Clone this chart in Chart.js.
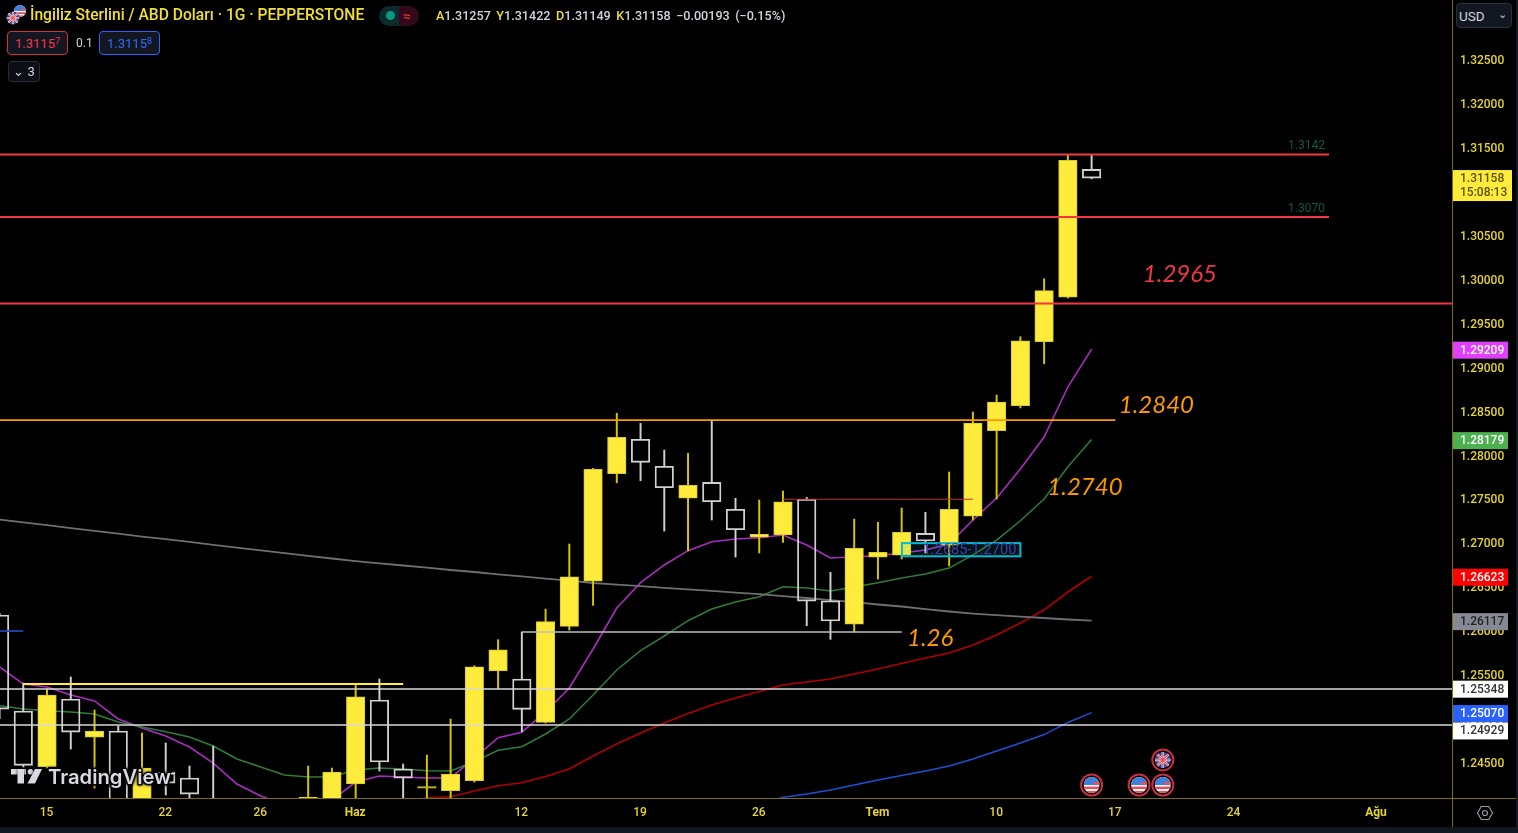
<!DOCTYPE html>
<html lang="tr">
<head>
<meta charset="utf-8">
<title>GBPUSD</title>
<script src="https://cdn.jsdelivr.net/npm/chart.js@4"></script>
<style>
  html, body { margin: 0; height: 100%; background: #131722; overflow: hidden; }
  #wrap { position: relative; width: 1518px; height: 833px; font-family: Roboto, sans-serif; }
  canvas { position: absolute; left: 0; top: 0; background: #000; }
  .t { position: absolute; white-space: nowrap; line-height: 1; }
  .chip { position: absolute; box-sizing: border-box; border-radius: 4px; background: #131722; text-align: center; white-space: nowrap; }
  sup { font-size: 9px; line-height: 0; vertical-align: 4px; }
  .y { color: #f2df35; }
</style>
</head>
<body>
<div id="wrap">
  <canvas id="chart" width="1516" height="827"></canvas>
  <div class="t y" style="left:30px;top:8px;font-size:15.6px;font-weight:500">İngiliz Sterlini / ABD Doları · 1G · PEPPERSTONE</div>
  <div class="chip" style="left:379px;top:6px;width:40px;height:20px;border-radius:10px;background:linear-gradient(90deg,#0c2b2a 50%,#35091c 50%)"></div>
  <div class="t" style="left:386px;top:11px;width:9px;height:9px;border-radius:50%;background:#089981"></div>
  <div class="t" style="left:403px;top:9px;color:#f23645;font-size:14px">≈</div>
  <div class="t" style="left:436px;top:10px;font-size:12.6px;font-weight:500;color:#d1d4dc;word-spacing:2.4px"><span class="y">A</span>1.31257 <span class="y">Y</span>1.31422 <span class="y">D</span>1.31149 <span class="y">K</span>1.31158 −0.00193 (−0.15%)</div>
  <div class="chip" style="left:7px;top:31px;width:61px;height:24px;border:1px solid #d32f3f;color:#f23645;font-size:13px;line-height:24px">1.3115<sup>7</sup></div>
  <div class="t" style="left:76px;top:37px;font-size:12px;color:#d1d4dc">0.1</div>
  <div class="chip" style="left:99px;top:31px;width:61px;height:24px;border:1px solid #2962ff;color:#2f6bff;font-size:13px;line-height:24px">1.3115<sup>8</sup></div>
  <div class="chip" style="left:8px;top:61px;width:32px;height:21px;border:1px solid #2a2e39;background:#0c0e14;color:#d1d4dc;font-size:13px;line-height:20px">⌄ 3</div>
  <div class="chip" style="left:1456px;top:3px;width:56px;height:25px;border:1px solid #2a2e39;color:#d1d4dc;font-size:13.5px;line-height:24px;text-align:left;padding-left:2px">USD<span style="position:absolute;right:4px;top:-1px;font-size:11px">⌄</span></div>
</div>
<script>
// tick labels
const xTickPos = [2, 7, 11, 15, 22, 27, 32, 37, 42, 47, 52, 58];
const xTickLabels = ['15', '22', '26', 'Haz', '12', '19', '26', 'Tem', '10', '17', '24', 'Ağu'];
const monthLabels = ['Haz', 'Tem', 'Ağu'];
const yTicks = [1.245, 1.25, 1.255, 1.26, 1.265, 1.27, 1.275, 1.28, 1.285, 1.29, 1.295, 1.3, 1.305, 1.31, 1.315, 1.32, 1.325];

// daily candles, one entry per bar from the left edge
const opens = [1.26181, 1.25087, 1.24453, 1.25224, 1.24791, 1.24860, 1.23960, 1.24393, 1.24324, 1.24028, 1.2400, 1.2357, 1.2385, 1.2395, 1.2400, 1.24256, 1.25213, 1.24427, 1.24210, 1.24180, 1.24294, 1.25543, 1.25452, 1.24959, 1.26052, 1.26568, 1.27790, 1.28182, 1.27875, 1.27513, 1.27692, 1.27385, 1.27069, 1.27092, 1.27499, 1.26344, 1.26078, 1.26841, 1.26864, 1.27111, 1.26978, 1.27308, 1.28280, 1.28565, 1.29294, 1.29800, 1.31257];
const highs = [1.26200, 1.25406, 1.25338, 1.25475, 1.25099, 1.24917, 1.24837, 1.24723, 1.24461, 1.24689, 1.2409, 1.2400, 1.2405, 1.24461, 1.24438, 1.25395, 1.25452, 1.24484, 1.24586, 1.24996, 1.25603, 1.25900, 1.25987, 1.26249, 1.26990, 1.27852, 1.28478, 1.28364, 1.28060, 1.28023, 1.28402, 1.27510, 1.27491, 1.27593, 1.27521, 1.26667, 1.27274, 1.27237, 1.27400, 1.27351, 1.27810, 1.28493, 1.28687, 1.29351, 1.30011, 1.31420, 1.31422];
const lows = [1.25000, 1.24450, 1.24438, 1.24655, 1.24210, 1.23903, 1.23903, 1.24131, 1.23937, 1.23846, 1.2360, 1.2345, 1.2360, 1.2380, 1.2395, 1.24017, 1.24404, 1.24017, 1.24017, 1.24074, 1.24279, 1.25342, 1.24852, 1.24951, 1.26010, 1.26291, 1.27688, 1.27711, 1.27138, 1.26913, 1.27263, 1.26841, 1.26887, 1.27009, 1.26059, 1.25904, 1.25987, 1.26591, 1.26819, 1.26887, 1.26739, 1.27263, 1.27502, 1.28539, 1.29043, 1.29792, 1.31149];
const closes = [1.25110, 1.24469, 1.25270, 1.24848, 1.24860, 1.24017, 1.24438, 1.24267, 1.24142, 1.23903, 1.2376, 1.2385, 1.2370, 1.24108, 1.24393, 1.25250, 1.24507, 1.24324, 1.24228, 1.24370, 1.25592, 1.25786, 1.25107, 1.26105, 1.26617, 1.27840, 1.28205, 1.27920, 1.27631, 1.27658, 1.27471, 1.27152, 1.27100, 1.27471, 1.26340, 1.26113, 1.26941, 1.26895, 1.27123, 1.27024, 1.27385, 1.28368, 1.28607, 1.29305, 1.29875, 1.31360, 1.31158];

// moving averages, null where they sit under the bottom of the chart
const maPurple = [1.25589, 1.25395, 1.25361, 1.25270, 1.25202, 1.24997, 1.24894, 1.24803, 1.24678, 1.24495, 1.24256, 1.24120, 1.24017, 1.23937, 1.24074, 1.24279, 1.24347, 1.24336, 1.24325, 1.24325, 1.24552, 1.24784, 1.24845, 1.25080, 1.25350, 1.25794, 1.26261, 1.26549, 1.26751, 1.26914, 1.27016, 1.27047, 1.27062, 1.27092, 1.26978, 1.26830, 1.26845, 1.26857, 1.26887, 1.26921, 1.26990, 1.27263, 1.27514, 1.27844, 1.28209, 1.28778, 1.29209];
const maGreen = [1.25148, 1.25110, 1.25091, 1.25076, 1.25054, 1.24962, 1.24905, 1.24852, 1.24792, 1.24689, 1.24541, 1.24450, 1.24359, 1.24336, 1.24339, 1.24416, 1.24438, 1.24427, 1.24408, 1.24404, 1.24512, 1.24640, 1.24681, 1.24826, 1.24997, 1.25270, 1.25555, 1.25775, 1.25942, 1.26116, 1.26249, 1.26329, 1.26390, 1.26503, 1.26489, 1.26455, 1.26500, 1.26549, 1.26603, 1.26648, 1.26716, 1.26865, 1.27035, 1.27255, 1.27502, 1.27870, 1.28179];
const maRed = [null, null, null, null, null, null, null, null, null, null, null, null, null, null, null, null, null, 1.24040, 1.24097, 1.24112, 1.24177, 1.24237, 1.24271, 1.24342, 1.24427, 1.24575, 1.24712, 1.24837, 1.24951, 1.25059, 1.25156, 1.25236, 1.25310, 1.25384, 1.25418, 1.25452, 1.25509, 1.25566, 1.25629, 1.25691, 1.25748, 1.25839, 1.25953, 1.26090, 1.26238, 1.26443, 1.26623];
const maBlue = [null, null, null, null, null, null, null, null, null, null, null, null, null, null, null, null, null, null, null, null, null, null, null, null, null, null, null, null, null, null, null, null, 1.24040, 1.24103, 1.24142, 1.24188, 1.24245, 1.24302, 1.24353, 1.24404, 1.24461, 1.24541, 1.24632, 1.24723, 1.24820, 1.24957, 1.25070];
const maGrey = [1.27268, 1.27236, 1.27204, 1.27172, 1.27139, 1.27107, 1.27075, 1.27045, 1.27013, 1.26981, 1.26949, 1.26918, 1.26887, 1.26855, 1.26825, 1.26796, 1.26770, 1.26745, 1.26720, 1.26694, 1.26671, 1.26644, 1.26622, 1.26595, 1.26572, 1.26546, 1.26527, 1.26511, 1.26491, 1.26474, 1.26455, 1.26437, 1.26420, 1.26397, 1.26375, 1.26350, 1.26327, 1.26301, 1.26278, 1.26249, 1.26221, 1.26198, 1.26181, 1.26162, 1.26147, 1.26130, 1.26117];

// hand drawn levels: [start bar, end bar, price]
const redLevels = [[0, 56, 1.31426], [0, 56, 1.30714], [0, 62, 1.29729]];
const orangeLevel = [0, 47, 1.28402];
const yellowLevel = [1, 17, 1.25395];
const whiteLevels = [[0, 62, 1.25338], [0, 62, 1.24929], [22, 38, 1.25987]];
const thinRedLevel = [33, 41, 1.27500];
const blueStub = [0, 1, 1.25999];

// notes on the chart: text, bar, price
const noteTexts = ['1.2965', '1.2840', '1.2740', '1.26'];
const noteBars = [49.72, 48.73, 45.72, 39.2];
const notePrices = [1.30058, 1.28572, 1.27638, 1.25912];
const noteColors = ['#f23645', '#ff9800', '#ff9800', '#ff9800'];
const lineNotes = ['1.3142', '1.3070'];
const lineNotePrices = [1.31523, 1.30803];

// price tags on the right axis, the last one is pushed down clear of its neighbour
const tagValues = [1.29209, 1.28179, 1.26623, 1.26117, 1.25348, 1.25070, 1.24929];
const tagFills = ['#e040fb', '#4caf50', '#ff0000', '#868993', '#ffffff', '#2962ff', '#ffffff'];
const tagTexts = ['#fff', '#fff', '#fff', '#222', '#333', '#fff', '#333'];
const tagShift = [0, 0, 0, 0, 0, 0, 5];

const UP = '#ffeb3b';
const UP_WICK = '#d8c600';
const DOWN = '#d0d0d0';

const isUp = i => closes[i] >= opens[i];
const toPoints = values => values.map((y, x) => ({ x, y }));

const bodies = opens.map((o, i) => ({ x: i, y: [o, closes[i]], up: isUp(i) }));
const wicks = opens.flatMap((o, i) => {
  const top = Math.max(o, closes[i]);
  const bottom = Math.min(o, closes[i]);
  return [
    { x: i, y: [top, highs[i]], up: isUp(i) },
    { x: i, y: [lows[i], bottom], up: isUp(i) }
  ];
});

function maSet(values, color, width) {
  return { type: 'line', data: toPoints(values), borderColor: color, borderWidth: width, pointRadius: 0, order: 10, clip: 0 };
}
function levelSet([from, to, price], color, width, order) {
  return {
    type: 'line',
    data: [{ x: from, y: price }, { x: to, y: price }],
    borderColor: color, borderWidth: width, pointRadius: 0, order: order || 1, clip: 0
  };
}

function drawUS(ctx, x, y, r) {
  ctx.save();
  ctx.beginPath(); ctx.arc(x, y, r, 0, Math.PI * 2); ctx.clip();
  ctx.fillStyle = '#f4f4f4'; ctx.fillRect(x - r, y - r, 2 * r, 2 * r);
  ctx.fillStyle = '#3d7fd9'; ctx.fillRect(x - r, y - r, 2 * r, r);
  ctx.fillStyle = '#e8505b';
  ctx.fillRect(x - r, y + r * 0.2, 2 * r, r * 0.3);
  ctx.fillRect(x - r, y + r * 0.75, 2 * r, r * 0.3);
  ctx.fillRect(x + r * 0.2, y - r * 0.35, r, r * 0.3);
  ctx.restore();
}
function drawUK(ctx, x, y, r) {
  ctx.save();
  ctx.beginPath(); ctx.arc(x, y, r, 0, Math.PI * 2); ctx.clip();
  ctx.fillStyle = '#2b4a9c'; ctx.fillRect(x - r, y - r, 2 * r, 2 * r);
  ctx.strokeStyle = '#eee'; ctx.lineWidth = r * 0.3;
  ctx.beginPath();
  ctx.moveTo(x - r, y - r); ctx.lineTo(x + r, y + r);
  ctx.moveTo(x + r, y - r); ctx.lineTo(x - r, y + r);
  ctx.moveTo(x, y - r); ctx.lineTo(x, y + r);
  ctx.moveTo(x - r, y); ctx.lineTo(x + r, y);
  ctx.stroke();
  ctx.strokeStyle = '#e8505b'; ctx.lineWidth = r * 0.16;
  ctx.beginPath();
  ctx.moveTo(x - r, y - r); ctx.lineTo(x + r, y + r);
  ctx.moveTo(x + r, y - r); ctx.lineTo(x - r, y + r);
  ctx.moveTo(x, y - r); ctx.lineTo(x, y + r);
  ctx.moveTo(x - r, y); ctx.lineTo(x + r, y);
  ctx.stroke();
  ctx.restore();
}
function eventFlag(ctx, x, y, draw) {
  ctx.fillStyle = '#000';
  ctx.beginPath(); ctx.arc(x, y, 10.5, 0, Math.PI * 2); ctx.fill();
  ctx.strokeStyle = '#c8303f'; ctx.lineWidth = 2;
  ctx.beginPath(); ctx.arc(x, y, 10.5, 0, Math.PI * 2); ctx.stroke();
  draw(ctx, x, y, 8);
}

function drawLogo(ctx, x, y) {
  ctx.save();
  ctx.lineJoin = 'round';
  ctx.fillStyle = '#d8dae2';
  ctx.shadowColor = '#000'; ctx.shadowBlur = 3;
  // the TV mark
  ctx.fillRect(x, y, 15, 5.5);
  ctx.fillRect(x + 6.5, y, 6.5, 14.5);
  ctx.beginPath(); ctx.arc(x + 19.5, y + 2.8, 2.8, 0, Math.PI * 2); ctx.fill();
  ctx.beginPath();
  ctx.moveTo(x + 24, y); ctx.lineTo(x + 31, y); ctx.lineTo(x + 24, y + 14.5); ctx.lineTo(x + 16.5, y + 14.5);
  ctx.closePath(); ctx.fill();
  ctx.font = '600 20.2px Inter, Roboto, sans-serif';
  ctx.textBaseline = 'alphabetic';
  ctx.textAlign = 'left';
  ctx.strokeStyle = 'rgba(0,0,0,0.85)'; ctx.lineWidth = 3;
  ctx.strokeText('TradingView', x + 37, y + 15);
  ctx.fillText('TradingView', x + 37, y + 15);
  ctx.fillRect(x + 160, y + 4, 4, 1.5);
  ctx.restore();
}

const overlayPlugin = {
  id: 'overlay',
  afterDatasetsDraw(chart) {
    const { ctx, scales: { x: xs, y: ys } } = chart;
    ctx.save();

    // support zone box
    const bx0 = xs.getPixelForValue(38.01), bx1 = xs.getPixelForValue(43);
    const by0 = ys.getPixelForValue(1.27000), by1 = ys.getPixelForValue(1.26850);
    ctx.fillStyle = 'rgba(0,188,212,0.1)';
    ctx.fillRect(bx0, by0, bx1 - bx0, by1 - by0);
    ctx.strokeStyle = '#00bcd4'; ctx.lineWidth = 2;
    ctx.strokeRect(bx0, by0, bx1 - bx0, by1 - by0);
    ctx.fillStyle = '#4a3aa8';
    ctx.font = '14.6px Roboto, sans-serif';
    ctx.textAlign = 'right'; ctx.textBaseline = 'middle';
    ctx.fillText('1.2685-1.2700', bx1 - 4, (by0 + by1) / 2 + 1);

    // big italic notes
    ctx.font = 'italic 24px Lato, Roboto, sans-serif';
    ctx.textAlign = 'center';
    noteTexts.forEach((t, i) => {
      ctx.fillStyle = noteColors[i];
      ctx.fillText(t, xs.getPixelForValue(noteBars[i]), ys.getPixelForValue(notePrices[i]));
    });

    // level captions
    ctx.font = '12px Roboto, sans-serif';
    ctx.fillStyle = '#0b5a48';
    ctx.textAlign = 'right';
    lineNotes.forEach((t, i) => ctx.fillText(t, xs.getPixelForValue(56) - 4, ys.getPixelForValue(lineNotePrices[i])));

    // calendar events
    eventFlag(ctx, xs.getPixelForValue(46), ys.getPixelForValue(1.24245), drawUS);
    eventFlag(ctx, xs.getPixelForValue(48), ys.getPixelForValue(1.24245), drawUS);
    eventFlag(ctx, xs.getPixelForValue(49), ys.getPixelForValue(1.24245), drawUS);
    eventFlag(ctx, xs.getPixelForValue(49), ys.getPixelForValue(1.24530), drawUK);

    drawLogo(ctx, 11, 769);

    // symbol flags in the header
    drawUS(ctx, 20, 11, 6);
    drawUK(ctx, 13, 18, 6.5);

    // axis frame
    const area = chart.chartArea;
    ctx.fillStyle = '#7d7000';
    ctx.fillRect(area.right, 0, 1, chart.height);
    ctx.fillRect(0, area.bottom, chart.width, 1);

    // price tags
    ctx.font = '500 12px Roboto, sans-serif';
    ctx.textAlign = 'left';
    ctx.textBaseline = 'middle';
    tagValues.forEach((v, i) => {
      const py = ys.getPixelForValue(v) + 1 + tagShift[i];
      ctx.fillStyle = tagFills[i];
      ctx.fillRect(area.right + 1, py - 8.5, 55, 17);
      ctx.fillStyle = tagTexts[i];
      ctx.fillText(v.toFixed(5), 1460, py + 0.5);
    });

    // last price tag with countdown
    const lastY = ys.getPixelForValue(closes[closes.length - 1]);
    ctx.fillStyle = UP;
    ctx.fillRect(area.right + 1, lastY - 8, 59, 31);
    ctx.fillStyle = '#5a5200';
    ctx.fillText('1.31158', 1460, lastY + 1);
    ctx.fillText('15:08:13', 1460, lastY + 15);

    // settings button
    const gx = 1485, gy = 813;
    ctx.strokeStyle = '#9598a1'; ctx.lineWidth = 1.2;
    ctx.beginPath();
    for (let k = 0; k < 6; k++) {
      const a = Math.PI / 3 * k;
      const px = gx + 7.5 * Math.cos(a), py = gy + 7.5 * Math.sin(a);
      if (k) ctx.lineTo(px, py); else ctx.moveTo(px, py);
    }
    ctx.closePath(); ctx.stroke();
    ctx.beginPath(); ctx.arc(gx, gy, 2.5, 0, Math.PI * 2); ctx.stroke();
    ctx.restore();
  }
};

new Chart(document.getElementById('chart'), {
  type: 'bar',
  plugins: [overlayPlugin],
  data: {
    datasets: [
      {
        data: bodies, grouped: false, order: 5, clip: 0,
        barThickness: 18.5, borderSkipped: false,
        backgroundColor: c => (c.raw && c.raw.up ? UP : 'rgba(0,0,0,0)'),
        borderColor: c => (c.raw && c.raw.up ? '#d8c92e' : DOWN),
        borderWidth: c => (c.raw && c.raw.up ? 1 : 1.2)
      },
      {
        data: wicks, grouped: false, order: 6, clip: 0,
        barThickness: 1.3, borderWidth: 0,
        backgroundColor: c => (c.raw && c.raw.up ? UP_WICK : DOWN)
      },
      maSet(maGrey, '#6e6e74', 1.8),
      maSet(maBlue, '#1e50d8', 1.4),
      maSet(maRed, '#b00000', 1.6),
      maSet(maGreen, '#2f7d3a', 1.5),
      maSet(maPurple, '#a92dc0', 1.6),
      levelSet(redLevels[0], '#f23645', 2),
      levelSet(redLevels[1], '#f23645', 2),
      levelSet(redLevels[2], '#f23645', 2),
      levelSet(orangeLevel, '#ff9800', 1.8),
      levelSet(yellowLevel, '#ffeb3b', 2),
      levelSet(whiteLevels[0], '#d8d8d8', 1.6),
      levelSet(whiteLevels[1], '#d8d8d8', 1.6),
      levelSet(whiteLevels[2], '#bdbdbd', 1.6),
      levelSet(thinRedLevel, '#c03038', 1.1),
      levelSet(blueStub, '#2044b0', 1.8)
    ]
  },
  options: {
    responsive: false,
    animation: false,
    devicePixelRatio: 1,
    layout: { padding: 0 },
    plugins: { legend: { display: false }, tooltip: { enabled: false } },
    elements: { line: { tension: 0 } },
    scales: {
      x: {
        type: 'linear',
        offset: false,
        min: 0.0185,
        max: 61.181,
        grid: { display: false, offset: false, drawTicks: false },
        border: { display: false },
        ticks: {
          autoSkip: false,
          maxRotation: 0,
          padding: 8,
          labelOffset: -0.5,
          color: '#e6d42e',
          font: c => ({
            family: 'Roboto, sans-serif',
            size: 12,
            weight: c.tick && monthLabels.includes(c.tick.label) ? 700 : 500
          }),
          callback: (v, i) => xTickLabels[i]
        },
        afterBuildTicks: s => { s.ticks = xTickPos.map(value => ({ value })); },
        afterFit: s => { s.height = 29; s.paddingLeft = 0; s.paddingRight = 0; }
      },
      y: {
        type: 'linear',
        position: 'right',
        beginAtZero: false,
        min: 1.24097,
        max: 1.33186,
        grid: { display: false, drawTicks: false },
        border: { display: false },
        ticks: {
          autoSkip: false,
          padding: 8,
          labelOffset: 1.2,
          color: '#e6d42e',
          font: { family: 'Roboto, sans-serif', size: 12, weight: 500 },
          callback: v => v.toFixed(5)
        },
        afterBuildTicks: s => { s.ticks = yTicks.map(value => ({ value })); },
        afterFit: s => { s.width = 64; s.paddingTop = 0; s.paddingBottom = 0; }
      }
    }
  }
});
</script>
</body>
</html>
